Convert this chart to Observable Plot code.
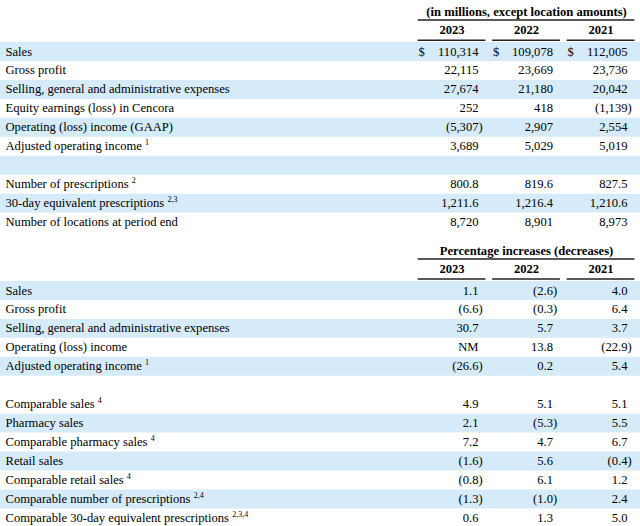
<!DOCTYPE html>
<html>
<head>
<meta charset="utf-8">
<script src="https://cdn.jsdelivr.net/npm/d3@7"></script>
<script src="https://cdn.jsdelivr.net/npm/@observablehq/plot@0.6"></script>
<style>
html, body { margin: 0; padding: 0; background: #fff; }
</style>
</head>
<body>
<div id="chart"></div>
<script>
// ---------- data ----------
const years = ["2023", "2022", "2021"];
const header1 = "(in millions, except location amounts)";
const header2 = "Percentage increases (decreases)";

const labels1 = [
  "Sales",
  "Gross profit",
  "Selling, general and administrative expenses",
  "Equity earnings (loss) in Cencora",
  "Operating (loss) income (GAAP)",
  "Adjusted operating income",
  "",
  "Number of prescriptions",
  "30-day equivalent prescriptions",
  "Number of locations at period end"
];
const notes1 = ["", "", "", "", "", "1", "", "2", "2,3", ""];
const decimals1 = [0, 0, 0, 0, 0, 0, 0, 1, 1, 0];
const amounts2023 = [110314, 22115, 27674, 252, -5307, 3689, null, 800.8, 1211.6, 8720];
const amounts2022 = [109078, 23669, 21180, 418, 2907, 5029, null, 819.6, 1216.4, 8901];
const amounts2021 = [112005, 23736, 20042, -1139, 2554, 5019, null, 827.5, 1210.6, 8973];

const labels2 = [
  "Sales",
  "Gross profit",
  "Selling, general and administrative expenses",
  "Operating (loss) income",
  "Adjusted operating income",
  "",
  "Comparable sales",
  "Pharmacy sales",
  "Comparable pharmacy sales",
  "Retail sales",
  "Comparable retail sales",
  "Comparable number of prescriptions",
  "Comparable 30-day equivalent prescriptions"
];
const notes2 = ["", "", "", "", "1", "", "4", "", "4", "", "4", "2,4", "2,3,4"];
const pct2023 = [1.1, -6.6, 30.7, "NM", -26.6, null, 4.9, 2.1, 7.2, -1.6, -0.8, -1.3, 0.6];
const pct2022 = [-2.6, -0.3, 5.7, 13.8, 0.2, null, 5.1, -5.3, 4.7, 5.6, 6.1, -1.0, 1.3];
const pct2021 = [4.0, 6.4, 3.7, -22.9, 5.4, null, 5.1, 5.5, 6.7, -0.4, 1.2, 2.4, 5.0];

// ---------- layout (row slots) ----------
const W = 640, H = 526;
const pitch = 18.95;          // px per row
const row0 = 51;              // px of first row of table 1
const start1 = 0;             // slot of first row, table 1
const start2 = 12.61;         // slot of first row, table 2
const band = "#d5ebf9";
const fontSize = 12.6;
const font = "'Liberation Serif', 'Times New Roman', serif";

const fmt = (v, dec) => {
  if (v === null || v === undefined) return "";
  if (typeof v === "string") return v;
  const s = d3.format(`,.${dec}f`)(Math.abs(v));
  return v < 0 ? `(${s})` : s;
};

const cols1 = [amounts2023, amounts2022, amounts2021];
const cols2 = [pct2023, pct2022, pct2021];

const labelRows = [];
const cells = [];
const bands = [];
labels1.forEach((l, i) => {
  const y = start1 + i;
  if (l) labelRows.push({y, text: l, note: notes1[i]});
  if (i % 2 === 0) bands.push(y);
  cols1.forEach((col, c) => {
    const v = col[i];
    if (v !== null) cells.push({x: c, y, text: fmt(v, decimals1[i]), neg: typeof v === "number" && v < 0});
  });
});
labels2.forEach((l, i) => {
  const y = start2 + i;
  if (l) labelRows.push({y, text: l, note: notes2[i]});
  if (i < 6 ? i % 2 === 0 : i % 2 === 1) bands.push(y);
  cols2.forEach((col, c) => {
    const v = col[i];
    if (v !== null) cells.push({x: c, y, text: fmt(v, 1), neg: typeof v === "number" && v < 0});
  });
});

const dollars = years.map((_, c) => ({x: c - 0.805, y: start1}));

const headers = [
  {start: start1, title: header1},
  {start: start2, title: header2}
];
const titleRows = headers.map(h => ({x: 0.645, y: h.start - 2.1, text: h.title}));
const topRules = headers.map(h => ({x1: -0.81, x2: 2.1, y: h.start - 1.66}));
const yearRules = headers.flatMap(h => years.map((_, c) => ({x1: c - 0.81, x2: c + 0.1, y: h.start - 0.6})));
const yearLabels = headers.flatMap(h => years.map((yr, c) => ({x: c - 0.355, y: h.start - 1.13, text: yr})));

const chart = Plot.plot({
  width: W,
  height: H,
  margin: 0,
  style: {fontFamily: font, fontSize: `${fontSize}px`, color: "#000", background: "#fff"},
  x: {type: "linear", domain: [0, 2], range: [478, 627], axis: null},
  y: {type: "linear", domain: [-row0 / pitch, (H - row0) / pitch], range: [0, H], axis: null},
  marks: [
    Plot.ruleY(bands, {y: d => d, stroke: band, strokeWidth: pitch}),
    Plot.ruleY(topRules, {y: "y", x1: "x1", x2: "x2", stroke: "#222", strokeWidth: 1.5}),
    Plot.ruleY(yearRules, {y: "y", x1: "x1", x2: "x2", stroke: "#222", strokeWidth: 1.5}),
    Plot.text(titleRows, {x: "x", y: "y", text: "text", fontWeight: "bold", fontSize, fill: "#000"}),
    Plot.text(yearLabels, {x: "x", y: "y", text: "text", fontWeight: "bold", fontSize, fill: "#000"}),
    Plot.text(labelRows, {frameAnchor: "left", dx: 5, y: "y", text: "text", textAnchor: "start", fontSize, fill: "#000"}),
    Plot.text(dollars, {x: "x", y: "y", text: () => "$", textAnchor: "start", fontSize, fill: "#000"}),
    Plot.text(cells.filter(d => !d.neg), {x: "x", y: "y", text: "text", textAnchor: "end", fontSize, fill: "#000"}),
    Plot.text(cells.filter(d => d.neg), {x: "x", y: "y", text: "text", textAnchor: "end", dx: 4.2, fontSize, fill: "#000"})
  ]
});

// footnote superscripts as real tspans, matched to the row labels in drawing order
let k = 0;
chart.querySelectorAll("text").forEach(t => {
  if (k >= labelRows.length) return;
  if (t.textContent !== labelRows[k].text) return;
  const note = labelRows[k].note;
  k++;
  if (!note) return;
  t.appendChild(document.createTextNode(" "));
  const ts = document.createElementNS("http://www.w3.org/2000/svg", "tspan");
  ts.setAttribute("font-size", "8");
  ts.setAttribute("dy", "-5");
  ts.textContent = note;
  t.appendChild(ts);
});

document.getElementById("chart").appendChild(chart);
</script>
</body>
</html>
